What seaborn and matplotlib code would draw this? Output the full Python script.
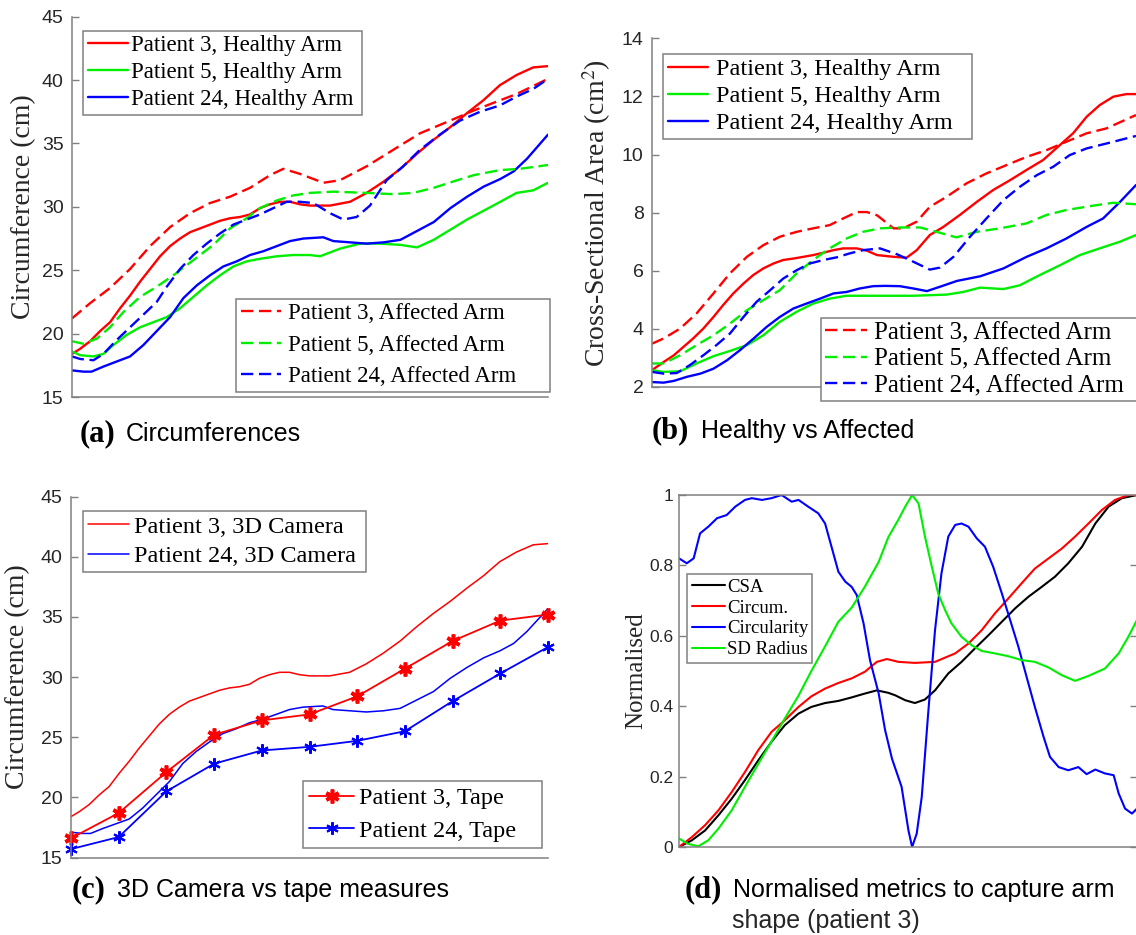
import matplotlib
matplotlib.use("Agg")
import matplotlib.pyplot as plt
from matplotlib.font_manager import FontProperties
import seaborn as sns

# ---------------- data (position along the arm, 0-100 %) ----------------
# (a) Circumferences (cm)
p3_healthy_x = [0, 1.7, 3.8, 5.9, 8.0, 10.1, 12.2, 14.3, 16.4, 18.5, 20.6, 22.7, 24.8, 26.9, 29.0,
                31.1, 33.2, 35.3, 37.4, 39.5, 41.6, 43.7, 45.8, 47.9, 50.0, 54.2, 58.4, 61.9, 65.5,
                69.0, 72.5, 76.0, 79.5, 83.0, 86.4, 89.9, 93.4, 96.9, 100]
p3_healthy = [18.4, 18.8, 19.4, 20.2, 20.9, 22.0, 23.0, 24.1, 25.1, 26.1, 26.9, 27.5, 28.0, 28.3, 28.6,
              28.9, 29.1, 29.2, 29.4, 29.9, 30.2, 30.4, 30.4, 30.2, 30.1, 30.1, 30.4, 31.1, 32.0,
              33.0, 34.2, 35.3, 36.3, 37.4, 38.4, 39.6, 40.4, 41.0, 41.1]
p3_affected_x = [0, 3.8, 8.0, 12.2, 16.4, 20.6, 24.8, 29.0, 33.2, 37.4, 41.6, 44.4, 47.9, 52.8, 56.3,
                 61.9, 67.5, 73.1, 78.8, 84.4, 89.9, 93.4, 100]
p3_affected = [21.2, 22.4, 23.6, 25.1, 26.9, 28.4, 29.5, 30.3, 30.8, 31.5, 32.5, 33.0, 32.6, 31.9, 32.1,
               33.2, 34.5, 35.8, 36.7, 37.6, 38.4, 38.9, 40.1]
p5_healthy_x = [0, 1.7, 4.5, 6.6, 8.7, 11.5, 14.3, 17.1, 19.9, 22.7, 25.5, 28.3, 31.1, 33.9, 36.7, 39.5,
                43.0, 46.5, 50.0, 52.1, 56.3, 60.5, 64.7, 69.0, 72.5, 76.0, 79.5, 83.0, 86.5, 90.0,
                93.4, 96.9, 100]
p5_healthy = [18.6, 18.3, 18.2, 18.4, 19.1, 19.9, 20.5, 20.9, 21.3, 22.0, 22.9, 23.8, 24.6, 25.3, 25.7,
              25.9, 26.1, 26.2, 26.2, 26.1, 26.7, 27.1, 27.1, 27.0, 26.8, 27.4, 28.2, 29.0, 29.7,
              30.4, 31.1, 31.3, 31.9]
p5_affected_x = [0, 2.4, 5.2, 8.0, 10.8, 14.3, 17.8, 21.3, 25.5, 29.7, 33.2, 36.7, 39.5, 43.0, 46.5,
                 50.0, 54.9, 61.9, 67.5, 71.7, 76.0, 80.1, 84.4, 89.9, 94.1, 100]
p5_affected = [19.4, 19.2, 19.6, 20.5, 21.7, 22.9, 23.7, 24.6, 25.8, 27.0, 28.3, 29.1, 29.9, 30.5, 30.9,
               31.1, 31.2, 31.1, 31.0, 31.1, 31.5, 32.0, 32.5, 32.9, 33.0, 33.3]
p24_healthy_x = [0, 2.4, 4.1, 6.6, 9.4, 12.2, 15.0, 17.8, 20.6, 23.4, 26.2, 29.0, 31.8, 34.6, 37.4,
                 40.2, 43.0, 45.8, 48.6, 52.8, 54.9, 58.4, 61.9, 65.5, 69.0, 72.5, 76.0, 79.5, 83.0,
                 86.5, 90.0, 92.8, 95.6, 100]
p24_healthy = [17.1, 17.0, 17.0, 17.4, 17.8, 18.2, 19.1, 20.2, 21.3, 22.8, 23.8, 24.6, 25.3, 25.7, 26.2,
               26.5, 26.9, 27.3, 27.5, 27.6, 27.3, 27.2, 27.1, 27.2, 27.4, 28.1, 28.8, 29.9, 30.8,
               31.6, 32.2, 32.8, 33.8, 35.7]
p24_affected_x = [0, 1.7, 4.5, 6.6, 9.4, 12.2, 15.0, 17.8, 19.9, 22.7, 25.5, 28.3, 31.1, 33.9, 36.7,
                  39.5, 42.3, 45.1, 47.9, 50.7, 54.2, 57.0, 59.8, 62.6, 66.1, 69.6, 73.1, 77.3, 81.5,
                  85.7, 89.9, 93.4, 96.9, 100]
p24_affected = [18.2, 18.0, 17.9, 18.4, 19.5, 20.5, 21.5, 22.5, 23.7, 25.1, 26.2, 27.1, 27.9, 28.6, 29.0,
                29.4, 29.9, 30.4, 30.4, 30.3, 29.5, 29.0, 29.2, 30.1, 32.1, 33.2, 34.5, 35.7, 36.8,
                37.5, 38.0, 38.7, 39.3, 40.1]

# (b) Cross-sectional area (cm^2)
csa_p3_healthy_x = [0, 2.4, 4.5, 6.5, 8.5, 10.6, 12.7, 14.7, 16.8, 18.9, 20.9, 23.0, 25.1, 27.1, 29.2,
                    31.3, 33.3, 35.4, 37.5, 39.5, 42.3, 44.4, 46.5, 49.9, 52.6, 54.7, 57.4, 60.2, 63.6,
                    67.1, 70.5, 74.0, 77.4, 80.8, 84.3, 87.0, 89.8, 92.5, 95.3, 98.0, 100]
csa_p3_healthy = [2.58, 2.86, 3.09, 3.38, 3.67, 4.01, 4.41, 4.82, 5.22, 5.56, 5.85, 6.08, 6.25, 6.37, 6.42,
                  6.48, 6.54, 6.62, 6.71, 6.77, 6.77, 6.69, 6.54, 6.48, 6.45, 6.71, 7.23, 7.51, 7.92,
                  8.37, 8.78, 9.12, 9.47, 9.81, 10.33, 10.73, 11.30, 11.70, 11.99, 12.08, 12.08]
csa_p3_affected_x = [0, 2.4, 5.8, 9.2, 12.7, 16.1, 19.6, 23.0, 26.4, 29.9, 33.3, 36.7, 39.5, 42.3, 44.4,
                     46.5, 49.9, 51.9, 54.7, 57.4, 60.9, 65.0, 69.1, 73.3, 77.4, 81.5, 85.6, 89.8, 93.9, 100]
csa_p3_affected = [3.49, 3.67, 4.01, 4.53, 5.22, 5.91, 6.48, 6.88, 7.17, 7.34, 7.46, 7.57, 7.80, 8.02, 8.02,
                   7.91, 7.46, 7.46, 7.69, 8.20, 8.55, 9.01, 9.35, 9.64, 9.92, 10.15, 10.44, 10.73, 10.90, 11.36]
csa_p5_healthy_x = [0, 2.4, 5.8, 9.2, 12.7, 16.1, 19.6, 23.0, 26.4, 29.9, 33.3, 36.7, 40.2, 43.6, 47.1,
                    54.0, 60.9, 64.3, 67.8, 72.6, 76.0, 80.1, 84.3, 88.4, 92.5, 96.7, 100]
csa_p5_healthy = [2.58, 2.52, 2.54, 2.81, 3.06, 3.24, 3.44, 3.78, 4.24, 4.59, 4.87, 5.04, 5.14, 5.14, 5.14,
                  5.14, 5.18, 5.27, 5.42, 5.37, 5.50, 5.85, 6.19, 6.54, 6.77, 7.00, 7.23]
csa_p5_affected_x = [0, 2.4, 5.8, 9.2, 12.7, 16.1, 19.6, 23.0, 26.4, 29.9, 33.3, 36.7, 40.2, 43.6, 47.1,
                     51.2, 55.4, 58.8, 62.9, 67.1, 71.9, 77.4, 81.5, 85.6, 91.1, 95.3, 100]
csa_p5_affected = [2.81, 2.81, 3.09, 3.44, 3.78, 4.18, 4.64, 4.99, 5.33, 5.91, 6.37, 6.77, 7.11, 7.34, 7.46,
                   7.49, 7.49, 7.34, 7.15, 7.34, 7.46, 7.63, 7.92, 8.09, 8.24, 8.34, 8.29]
csa_p24_healthy_x = [0, 2.4, 4.5, 7.2, 10.0, 12.7, 15.5, 18.2, 21.0, 23.7, 26.4, 29.2, 31.9, 34.7, 37.5,
                     40.2, 42.9, 45.7, 48.2, 51.2, 54.0, 56.8, 59.5, 63.0, 67.8, 72.6, 77.4, 81.5, 85.6,
                     89.8, 93.2, 96.7, 100]
csa_p24_healthy = [2.17, 2.15, 2.21, 2.35, 2.46, 2.63, 2.92, 3.27, 3.67, 4.07, 4.41, 4.70, 4.87, 5.04, 5.22,
                   5.27, 5.39, 5.47, 5.48, 5.47, 5.39, 5.30, 5.45, 5.65, 5.81, 6.08, 6.48, 6.77, 7.11,
                   7.51, 7.80, 8.37, 8.95]
csa_p24_affected_x = [0, 2.4, 5.1, 7.8, 10.6, 13.3, 16.1, 18.9, 21.6, 24.4, 27.1, 29.9, 32.6, 35.4, 38.1,
                      40.9, 43.6, 47.1, 50.6, 54.0, 57.4, 59.5, 62.3, 65.7, 69.1, 72.6, 76.0, 79.5, 82.9,
                      86.3, 89.8, 93.9, 100]
csa_p24_affected = [2.52, 2.46, 2.48, 2.75, 3.09, 3.44, 3.84, 4.41, 4.93, 5.33, 5.73, 6.02, 6.25, 6.37, 6.46,
                    6.60, 6.71, 6.77, 6.57, 6.31, 6.04, 6.11, 6.48, 7.17, 7.80, 8.43, 8.89, 9.29, 9.58,
                    9.98, 10.21, 10.38, 10.64]

# (c) 3D camera (same scans as the healthy arms in (a)) vs tape measures
camera_p3_x, camera_p3 = p3_healthy_x, p3_healthy
camera_p24_x, camera_p24 = p24_healthy_x, p24_healthy
tape_x = [0, 10, 20, 30, 40, 50, 60, 70, 80, 90, 100]
tape_p3 = [16.6, 18.7, 22.1, 25.2, 26.4, 26.9, 28.4, 30.7, 33.0, 34.7, 35.2]
tape_p24 = [15.7, 16.7, 20.5, 22.8, 23.9, 24.2, 24.7, 25.5, 28.0, 30.3, 32.5]

# (d) Normalised metrics, patient 3
csa_norm_x = [0, 2.8, 5.7, 8.6, 11.5, 14.4, 17.3, 20.2, 23.1, 26.1, 28.9, 31.9, 34.8, 37.7, 40.6, 43.2,
              45.7, 47.2, 49.4, 51.5, 53.7, 55.9, 58.8, 61.7, 64.6, 67.6, 70.5, 73.4, 76.3, 79.2, 82.1,
              85.0, 88.0, 90.9, 93.8, 96.7, 100]
csa_norm = [0, 0.019, 0.047, 0.09, 0.137, 0.19, 0.246, 0.299, 0.346, 0.379, 0.398, 0.409, 0.415, 0.425,
            0.436, 0.445, 0.438, 0.431, 0.417, 0.409, 0.419, 0.445, 0.493, 0.526, 0.564, 0.602, 0.64,
            0.678, 0.711, 0.739, 0.768, 0.806, 0.853, 0.919, 0.967, 0.991, 1.0]
circum_norm_x = [0, 2.8, 5.7, 8.6, 11.5, 14.4, 17.3, 20.2, 23.1, 26.1, 28.9, 31.9, 34.8, 37.7, 40.6, 43.2,
                 45.4, 47.9, 51.5, 55.9, 60.3, 63.2, 66.1, 69.0, 71.9, 74.8, 77.7, 80.7, 83.6, 86.5,
                 89.4, 92.3, 95.2, 98.1, 100]
circum_norm = [0, 0.028, 0.062, 0.104, 0.156, 0.213, 0.275, 0.327, 0.36, 0.398, 0.428, 0.45, 0.466, 0.479,
               0.498, 0.526, 0.534, 0.526, 0.523, 0.526, 0.55, 0.578, 0.616, 0.664, 0.706, 0.749, 0.791,
               0.82, 0.848, 0.882, 0.919, 0.957, 0.986, 1.0, 1.0]
circularity_x = [0, 1.7, 3.2, 4.6, 6.4, 8.3, 10.4, 12.3, 14.4, 15.9, 18.1, 20.2, 22.4, 24.6, 26.1, 28.2,
                 30.4, 31.9, 33.3, 34.8, 36.3, 37.7, 38.8, 40.3, 41.7, 43.6, 45.0, 46.5, 48.6, 50.1,
                 50.9, 51.9, 53.0, 54.4, 55.9, 57.3, 58.8, 60.3, 61.7, 63.2, 65.0, 66.8, 68.6, 70.5,
                 72.3, 74.1, 75.9, 77.7, 79.6, 81.0, 82.9, 85.0, 87.2, 89.0, 90.9, 93.0, 94.9, 96.0,
                 97.4, 98.9, 100]
circularity = [0.82, 0.806, 0.82, 0.891, 0.91, 0.934, 0.943, 0.967, 0.986, 0.991, 0.986, 0.991, 1.0, 0.981,
               0.986, 0.967, 0.948, 0.919, 0.853, 0.782, 0.754, 0.739, 0.716, 0.635, 0.531, 0.436, 0.332,
               0.251, 0.171, 0.047, 0.0, 0.038, 0.142, 0.379, 0.616, 0.777, 0.882, 0.915, 0.919, 0.91,
               0.877, 0.853, 0.796, 0.72, 0.645, 0.569, 0.483, 0.398, 0.313, 0.256, 0.227, 0.218,
               0.227, 0.207, 0.22, 0.209, 0.204, 0.152, 0.109, 0.095, 0.109]
sd_radius_x = [0, 2.0, 4.2, 6.4, 8.6, 11.5, 14.4, 17.3, 20.2, 23.1, 26.1, 28.9, 31.9, 34.8, 37.7, 40.6,
               43.6, 45.7, 47.9, 49.4, 50.9, 52.3, 53.7, 55.2, 56.6, 58.1, 59.5, 61.7, 63.9, 66.1, 69.0,
               71.9, 74.8, 77.7, 80.7, 83.6, 86.5, 89.4, 93.0, 96.0, 98.1, 100]
sd_radius = [0.024, 0.009, 0.002, 0.019, 0.052, 0.104, 0.171, 0.236, 0.30, 0.365, 0.43, 0.50, 0.57, 0.64,
             0.68, 0.74, 0.81, 0.88, 0.93, 0.967, 1.0, 0.976, 0.882, 0.796, 0.72, 0.673, 0.635, 0.597,
             0.573, 0.557, 0.55, 0.542, 0.531, 0.526, 0.51, 0.488, 0.472, 0.486, 0.507, 0.55, 0.597, 0.645]

ticks_a = [15, 20, 25, 30, 35, 40, 45]
ticks_b = [2, 4, 6, 8, 10, 12, 14]
ticks_d = [0, 0.2, 0.4, 0.6, 0.8, 1.0]
ticklabels_d = ["0", "0.2", "0.4", "0.6", "0.8", "1"]

# ---------------- style ----------------
sns.set_style("white")
plt.rcParams["font.family"] = ["Liberation Sans", "DejaVu Sans"]
plt.rcParams["mathtext.fontset"] = "stix"

RED, GREEN, BLUE, BLACK = "#ff0000", "#00ee00", "#0000ff", "#000000"
SPINE = "#808080"
TXT = "#262626"
DASH = (5.2, 2.4)

W, H = 1136, 935
fig = plt.figure(figsize=(W / 100, H / 100), dpi=100)
fig.patch.set_facecolor("white")


def add_axes_px(left, top, right, bottom):
    return fig.add_axes([left / W, 1 - bottom / H, (right - left) / W, (bottom - top) / H])


def draw(ax, x, y, color, lw, dashed=False, **kw):
    sns.lineplot(x=x, y=y, ax=ax, color=color, linewidth=lw, estimator=None,
                 sort=False, legend=False, **kw)
    line = ax.lines[-1]
    if dashed:
        line.set_dashes(DASH)
    return line


def style(ax, ylim, yticks, ylabels, tick_fs, box=False):
    ax.set_xlim(0, 100)
    ax.set_ylim(*ylim)
    ax.set_xticks([])
    ax.set_yticks(yticks)
    ax.set_yticklabels(ylabels)
    for name, sp in ax.spines.items():
        sp.set_color(SPINE)
        sp.set_linewidth(1.1)
        if not box and name in ("top", "right"):
            sp.set_visible(False)
    ax.tick_params(axis="y", direction="in", length=5, width=1, color=SPINE,
                   labelsize=tick_fs, labelcolor=TXT, pad=6, left=True, right=box)
    ax.set_xlabel("")
    ax.set_facecolor("white")


def legend(ax, handles, labels, box, size, hl=1.75, ls=0.28, tp=0.15, bp=0.25):
    """box = (left, bottom, width) in axes fraction; legend expands to that width."""
    x0, y0, w = box
    leg = ax.legend(handles, labels, loc="lower left", bbox_to_anchor=(x0, y0, w, 0.01),
                    mode="expand", borderaxespad=0,
                    prop=FontProperties(family="Liberation Serif", size=size),
                    frameon=True, fancybox=False, framealpha=1, edgecolor=SPINE,
                    handlelength=hl, handletextpad=tp,
                    labelspacing=ls, borderpad=bp)
    leg.get_frame().set_linewidth(1.1)
    for t in leg.get_texts():
        t.set_color("black")
    return leg


serif = "Liberation Serif"

# ---------------- (a) ----------------
ax_a = add_axes_px(72, 16.7, 548, 397)
LW = 1.7
h1 = draw(ax_a, p3_healthy_x, p3_healthy, RED, LW)
h2 = draw(ax_a, p5_healthy_x, p5_healthy, GREEN, LW)
h3 = draw(ax_a, p24_healthy_x, p24_healthy, BLUE, LW)
h4 = draw(ax_a, p3_affected_x, p3_affected, RED, LW, dashed=True)
h5 = draw(ax_a, p5_affected_x, p5_affected, GREEN, LW, dashed=True)
h6 = draw(ax_a, p24_affected_x, p24_affected, BLUE, LW, dashed=True)
style(ax_a, (15, 45), ticks_a, [str(t) for t in ticks_a], 14)
ax_a.set_ylabel("Circumference (cm)", fontfamily=serif, fontsize=20, color=TXT)
ax_a.yaxis.set_label_coords(-0.076, 0.5)
# legend boxes in pixel terms: (a) upper 83-362 x, 30-113 y ; lower 236-550 x, 297-391 y
l1 = legend(ax_a, [h1, h2, h3], ["Patient 3, Healthy Arm", "Patient 5, Healthy Arm",
                                  "Patient 24, Healthy Arm"],
            ((83 - 72) / 476, (397 - 115) / 380.3, (362 - 83) / 476), 16.5, ls=0.26, bp=0.2)
ax_a.add_artist(l1)
legend(ax_a, [h4, h5, h6], ["Patient 3, Affected Arm", "Patient 5, Affected Arm",
                             "Patient 24, Affected Arm"],
       ((236 - 72) / 476, (397 - 392) / 380.3, (550 - 236) / 476), 16.5, ls=0.46, tp=0.32, bp=0.2)

# ---------------- (b) ----------------
ax_b = add_axes_px(652, 38.3, 1136, 387)
g1 = draw(ax_b, csa_p3_healthy_x, csa_p3_healthy, RED, LW)
g2 = draw(ax_b, csa_p5_healthy_x, csa_p5_healthy, GREEN, LW)
g3 = draw(ax_b, csa_p24_healthy_x, csa_p24_healthy, BLUE, LW)
g4 = draw(ax_b, csa_p3_affected_x, csa_p3_affected, RED, LW, dashed=True)
g5 = draw(ax_b, csa_p5_affected_x, csa_p5_affected, GREEN, LW, dashed=True)
g6 = draw(ax_b, csa_p24_affected_x, csa_p24_affected, BLUE, LW, dashed=True)
style(ax_b, (2, 14), ticks_b, [str(t) for t in ticks_b], 14)
ax_b.set_ylabel("Cross-Sectional Area (cm$^2$)", fontfamily=serif, fontsize=20, color=TXT)
ax_b.yaxis.set_label_coords(-0.081, 0.5)
# (b) upper 663-972 x, 50-136 y ; lower 821-(beyond) x, 316-400 y
l2 = legend(ax_b, [g1, g2, g3], ["Patient 3, Healthy Arm", "Patient 5, Healthy Arm",
                                  "Patient 24, Healthy Arm"],
            ((663 - 652) / 484, (387 - 139) / 348.7, (972 - 663) / 484), 17.5,
            hl=1.65, ls=0.2, tp=0.33, bp=0.2)
ax_b.add_artist(l2)
legend(ax_b, [g4, g5, g6], ["Patient 3, Affected Arm", "Patient 5, Affected Arm",
                             "Patient 24, Affected Arm"],
       ((821 - 652) / 484, (387 - 401) / 348.7, (1150 - 821) / 484), 18,
       hl=1.7, ls=0.16, tp=0.25, bp=0.15)

# ---------------- (c) ----------------
ax_c = add_axes_px(71, 496.7, 548, 857.5)
c1 = draw(ax_c, camera_p3_x, camera_p3, RED, 1.1)
c2 = draw(ax_c, camera_p24_x, camera_p24, BLUE, 1.1)
ast = (6, 2, 0)
c3 = draw(ax_c, tape_x, tape_p3, RED, 1.3, marker=ast, markersize=10,
          markeredgewidth=2.6, markeredgecolor=RED, clip_on=False)
c4 = draw(ax_c, tape_x, tape_p24, BLUE, 1.3, marker=ast, markersize=9,
          markeredgewidth=1.5, markeredgecolor=BLUE, clip_on=False)
style(ax_c, (15, 45), ticks_a, [str(t) for t in ticks_a], 14)
ax_c.set_ylabel("Circumference (cm)", fontfamily=serif, fontsize=20, color=TXT)
ax_c.yaxis.set_label_coords(-0.086, 0.5)
# (c) upper 83-366 x, 509-571 y ; lower 303-542 x, 778-848 y
l3 = legend(ax_c, [c1, c2], ["Patient 3, 3D Camera", "Patient 24, 3D Camera"],
            ((83 - 71) / 477, (857.5 - 572) / 360.8, (366 - 83) / 477), 17.5,
            hl=1.7, ls=0.3, tp=0.2, bp=0.2)
ax_c.add_artist(l3)
legend(ax_c, [c3, c4], ["Patient 3, Tape", "Patient 24, Tape"],
       ((303 - 71) / 477, (857.5 - 848) / 360.8, (542 - 303) / 477), 17.5,
       hl=1.85, ls=0.43, tp=0.2)

# ---------------- (d) ----------------
ax_d = add_axes_px(679, 495, 1137, 847)
d1 = draw(ax_d, csa_norm_x, csa_norm, BLACK, 1.5)
d2 = draw(ax_d, circum_norm_x, circum_norm, RED, 1.5)
d3 = draw(ax_d, circularity_x, circularity, BLUE, 1.5)
d4 = draw(ax_d, sd_radius_x, sd_radius, GREEN, 1.5)
style(ax_d, (0, 1), ticks_d, ticklabels_d, 12.5, box=True)
ax_d.tick_params(axis="y", pad=4)
ax_d.set_ylabel("Normalised", fontfamily=serif, fontsize=18, color=TXT)
ax_d.yaxis.set_label_coords(-0.07, 0.5)
# (d) 687-812 x, 572-662 y
legend(ax_d, [d1, d2, d3, d4], ["CSA", "Circum.", "Circularity", "SD Radius"],
       ((687 - 679) / 458, (847 - 663) / 352, (812 - 687) / 458), 13.5,
       hl=1.8, ls=0.2, tp=0.1, bp=0.25)

# ---------------- captions ----------------
def caption(x_tag, x_txt, y, tag, text):
    fig.text(x_tag / W, 1 - y / H, tag, fontfamily=serif, fontweight="bold", fontsize=22,
             va="baseline", ha="left", color="black")
    fig.text(x_txt / W, 1 - y / H, text, fontsize=18, va="baseline", ha="left", color="black")


caption(80, 126, 441, "(a)", "Circumferences")
caption(652, 701, 438, "(b)", "Healthy vs Affected")
caption(72, 117, 897, "(c)", "3D Camera vs tape measures")
caption(685, 733, 897, "(d)", "Normalised metrics to capture arm")
fig.text(732 / W, 1 - 928 / H, "shape (patient 3)", fontsize=18, va="baseline", ha="left")

fig.savefig("out.png", dpi=100, facecolor="white")
